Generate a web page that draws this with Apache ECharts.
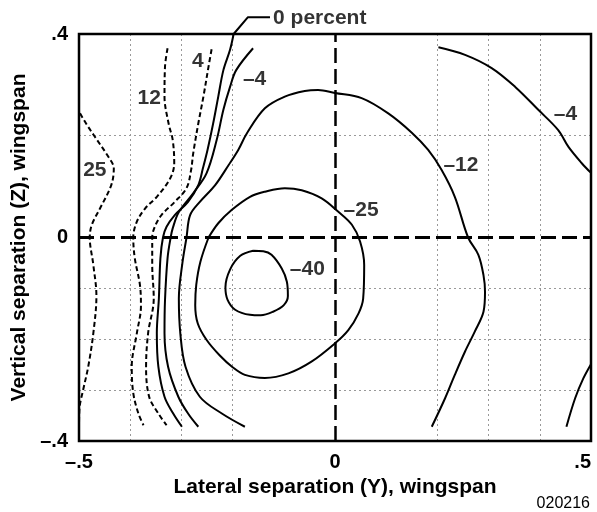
<!DOCTYPE html>
<html>
<head>
<meta charset="utf-8">
<script src="https://cdn.jsdelivr.net/npm/echarts@6/dist/echarts.min.js"></script>
<style>
html,body{margin:0;padding:0;background:#fff;}
#chart{width:597px;height:512px;}
</style>
</head>
<body>
<div id="chart"></div>
<script>
// ---- tick labels ----
const xTicks = [-0.5, 0, 0.5];
const xTickLabels = ['\u2013.5', '0', '.5'];
const yTicks = [-0.4, 0, 0.4];
const yTickLabels = ['\u2013.4', '0', '.4'];

// ---- grid (dotted) positions ----
const gridX = [-0.4, -0.3, -0.2, 0.2, 0.3, 0.4];
const gridY = [0.2, -0.1, -0.2, -0.3];

// ---- contour lines [lateral Y, vertical Z] ----
const c25 = [[-0.498,0.244],[-0.485,0.222],[-0.469,0.198],[-0.443,0.159],[-0.432,0.136],[-0.437,0.103],[-0.459,0.057],[-0.475,0.025],[-0.479,0.0],[-0.472,-0.054],[-0.466,-0.115],[-0.472,-0.188],[-0.482,-0.254],[-0.492,-0.300],[-0.499,-0.335],[-0.500,-0.370]];
const c12 = [[-0.327,0.372],[-0.332,0.336],[-0.333,0.277],[-0.325,0.224],[-0.317,0.192],[-0.314,0.146],[-0.322,0.116],[-0.348,0.080],[-0.371,0.057],[-0.387,0.031],[-0.394,0.0],[-0.391,-0.041],[-0.381,-0.093],[-0.379,-0.135],[-0.387,-0.188],[-0.397,-0.254],[-0.394,-0.306],[-0.384,-0.346],[-0.374,-0.369]];
const c4 = [[-0.241,0.370],[-0.247,0.336],[-0.257,0.277],[-0.267,0.224],[-0.277,0.165],[-0.281,0.133],[-0.290,0.097],[-0.313,0.070],[-0.339,0.044],[-0.352,0.021],[-0.357,0.0],[-0.357,-0.054],[-0.354,-0.120],[-0.365,-0.188],[-0.369,-0.254],[-0.363,-0.313],[-0.345,-0.346],[-0.329,-0.369]];
const c0 = [[-0.198,0.400],[-0.205,0.369],[-0.218,0.329],[-0.228,0.277],[-0.238,0.224],[-0.249,0.172],[-0.258,0.136],[-0.267,0.103],[-0.287,0.070],[-0.313,0.044],[-0.329,0.021],[-0.336,0.0],[-0.341,-0.041],[-0.344,-0.120],[-0.348,-0.188],[-0.345,-0.254],[-0.333,-0.313],[-0.316,-0.346],[-0.299,-0.372]];
const cm4Left = [[-0.160,0.372],[-0.193,0.329],[-0.205,0.296],[-0.218,0.251],[-0.231,0.192],[-0.251,0.126],[-0.277,0.087],[-0.305,0.050],[-0.317,0.018],[-0.321,0.0],[-0.327,-0.040],[-0.332,-0.123],[-0.333,-0.188],[-0.326,-0.254],[-0.306,-0.313],[-0.287,-0.346],[-0.267,-0.372]];
const cm4RightTop = [[0.202,0.374],[0.254,0.359],[0.306,0.333],[0.352,0.296],[0.397,0.251],[0.436,0.211],[0.456,0.178],[0.482,0.146],[0.500,0.127]];
const cm4RightBottom = [[0.452,-0.372],[0.469,-0.316],[0.485,-0.277],[0.500,-0.249]];
const cm12 = [[-0.176,-0.372],[-0.221,-0.346],[-0.264,-0.313],[-0.292,-0.254],[-0.302,-0.190],[-0.305,-0.120],[-0.298,-0.050],[-0.290,0.0],[-0.283,0.044],[-0.264,0.070],[-0.234,0.103],[-0.208,0.142],[-0.189,0.172],[-0.172,0.205],[-0.137,0.254],[-0.098,0.277],[-0.059,0.288],[-0.033,0.290],[0.0,0.284],[0.052,0.274],[0.104,0.244],[0.150,0.206],[0.182,0.172],[0.208,0.133],[0.234,0.080],[0.260,0.0],[0.280,-0.034],[0.290,-0.074],[0.293,-0.107],[0.290,-0.146],[0.273,-0.185],[0.254,-0.224],[0.234,-0.270],[0.215,-0.316],[0.189,-0.372]];
const cm25 = [[-0.247,0.0],[-0.228,0.028],[-0.202,0.054],[-0.166,0.080],[-0.137,0.090],[-0.098,0.097],[-0.065,0.093],[-0.026,0.077],[0.006,0.051],[0.033,0.025],[0.049,-0.008],[0.057,-0.054],[0.055,-0.120],[0.046,-0.149],[0.026,-0.182],[0.0,-0.208],[-0.046,-0.244],[-0.091,-0.267],[-0.137,-0.276],[-0.176,-0.270],[-0.200,-0.255],[-0.225,-0.232],[-0.251,-0.201],[-0.268,-0.169],[-0.273,-0.133],[-0.271,-0.093],[-0.263,-0.048],[-0.247,0.0]];
const cm40 = [[-0.160,-0.026],[-0.140,-0.027],[-0.124,-0.034],[-0.104,-0.061],[-0.094,-0.087],[-0.092,-0.115],[-0.100,-0.133],[-0.121,-0.146],[-0.145,-0.153],[-0.166,-0.152],[-0.195,-0.142],[-0.210,-0.122],[-0.214,-0.098],[-0.205,-0.063],[-0.185,-0.036],[-0.160,-0.026]];
const leader0 = [[-0.198,0.400],[-0.170,0.433],[-0.127,0.433]];

// ---- contour labels [Y, Z, text] ----
const contourLabels = [
  [-0.469, 0.132, '25'],
  [-0.363, 0.273, '12'],
  [-0.268, 0.346, '4'],
  [-0.157, 0.312, '\u20134'],
  [0.246, 0.142, '\u201312'],
  [0.450, 0.243, '\u20134'],
  [0.051, 0.054, '\u201325'],
  [-0.054, -0.063, '\u201340']
];
const percentLabel = [[-0.121, 0.431, '0 percent']];

const FONT = '"Liberation Sans", Arial, Helvetica, sans-serif';

function tickFmt(ticks, labels) {
  return function (v) {
    const i = ticks.findIndex(t => Math.abs(t - v) < 1e-9);
    return i >= 0 ? labels[i] : '';
  };
}

const solid = { color: '#000', width: 2, type: 'solid' };
const dashed = { color: '#000', width: 2, type: [5, 3] };

function contour(data, style) {
  return { type: 'line', data: data, smooth: 0.35, symbol: 'none', lineStyle: style, silent: true, z: 5 };
}

const chart = echarts.init(document.getElementById('chart'), null, { renderer: 'canvas' });
chart.setOption({
  animation: false,
  backgroundColor: '#fff',
  grid: { left: 79, right: 6, top: 34, bottom: 71, show: true, borderColor: '#000', borderWidth: 2.5, backgroundColor: 'transparent', z: 10 },
  xAxis: {
    type: 'value', min: -0.5, max: 0.5, interval: 0.5,
    name: 'Lateral separation (Y), wingspan', nameLocation: 'middle', nameGap: 35,
    nameTextStyle: { fontFamily: FONT, fontWeight: 'bold', fontSize: 21, color: '#000' },
    axisLine: { show: false }, axisTick: { show: false }, splitLine: { show: false },
    axisLabel: { formatter: tickFmt(xTicks, xTickLabels), fontFamily: FONT, fontWeight: 'bold', fontSize: 20, color: '#000', margin: 11, alignMaxLabel: 'right' }
  },
  yAxis: {
    type: 'value', min: -0.4, max: 0.4, interval: 0.4,
    name: 'Vertical separation (Z), wingspan', nameLocation: 'middle', nameGap: 37,
    nameTextStyle: { fontFamily: FONT, fontWeight: 'bold', fontSize: 21, color: '#000' },
    axisLine: { show: false }, axisTick: { show: false }, splitLine: { show: false },
    axisLabel: { formatter: tickFmt(yTicks, yTickLabels), fontFamily: FONT, fontWeight: 'bold', fontSize: 20, color: '#000', margin: 11, padding: [6, 0, 0, 0] }
  },
  series: [
    {
      type: 'line', data: [], silent: true, z: 1,
      markLine: {
        silent: true, symbol: 'none', animation: false, label: { show: false },
        lineStyle: { color: '#999', width: 1, type: [2, 3] },
        data: gridX.map(v => ({ xAxis: v })).concat(gridY.map(v => ({ yAxis: v })))
      }
    },
    {
      type: 'line', data: [], silent: true, z: 2,
      markLine: {
        silent: true, symbol: 'none', animation: false, label: { show: false },
        data: [
          { xAxis: 0, lineStyle: { color: '#000', width: 2.5, type: [15, 6] } },
          { yAxis: 0, lineStyle: { color: '#000', width: 3, type: [15, 6] } }
        ]
      }
    },
    contour(c25, dashed),
    contour(c12, dashed),
    contour(c4, dashed),
    contour(c0, solid),
    contour(cm4Left, solid),
    contour(cm4RightTop, solid),
    contour(cm4RightBottom, solid),
    contour(cm12, solid),
    contour(cm25, solid),
    contour(cm40, solid),
    { type: 'line', data: leader0, symbol: 'none', clip: false, silent: true, lineStyle: solid, z: 5 },
    {
      type: 'scatter', data: contourLabels, symbolSize: 0, silent: true, z: 6,
      label: { show: true, position: 'inside', formatter: p => p.value[2], fontFamily: FONT, fontWeight: 'bold', fontSize: 21, color: '#000', textBorderWidth: 0 }
    },
    {
      type: 'scatter', data: percentLabel, symbolSize: 0, silent: true, clip: false, z: 6,
      label: { show: true, position: 'right', distance: 0, formatter: p => p.value[2], fontFamily: FONT, fontWeight: 'bold', fontSize: 21, color: '#000' }
    }
  ],
  graphic: [
    { type: 'text', right: 7, top: 496, style: { text: '020216', font: '16px ' + FONT, fill: '#000' } }
  ]
});
</script>
</body>
</html>
